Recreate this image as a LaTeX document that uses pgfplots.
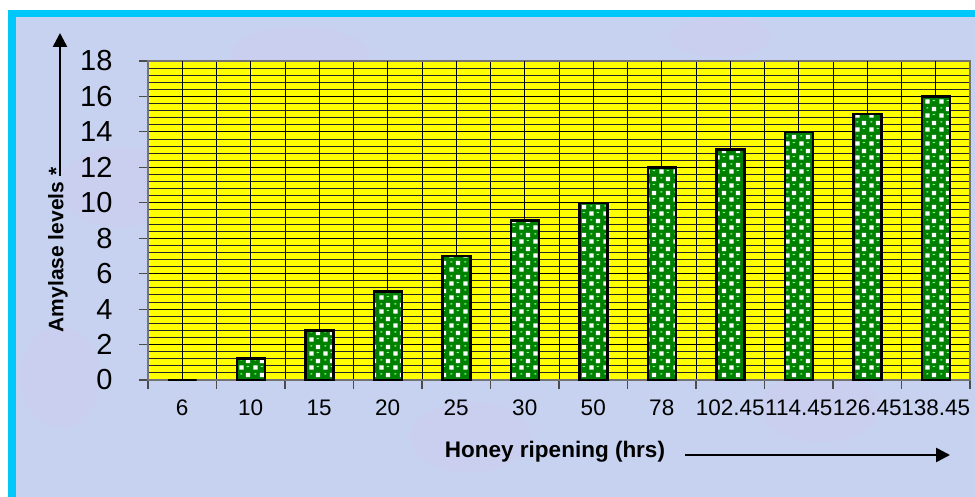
\documentclass[border=0pt]{standalone}
\usepackage{pgfplots}
\pgfplotsset{compat=1.18}
\usepackage{pgfplotstable}
\usepackage{fontspec}
\setmainfont{Liberation Sans}
\usetikzlibrary{patterns,arrows.meta}
\definecolor{framecyan}{RGB}{0,200,250}
\definecolor{bgblue}{RGB}{198,210,240}
\definecolor{bgpink}{RGB}{225,195,235}
\definecolor{bargreen}{RGB}{0,128,0}
\definecolor{plotyellow}{RGB}{255,255,0}
\pgfdeclarepatternformonly{checker}{\pgfqpoint{0pt}{0pt}}{\pgfqpoint{14pt}{14pt}}{\pgfqpoint{14pt}{14pt}}{%
  \pgfpathrectangle{\pgfqpoint{1.5pt}{1.5pt}}{\pgfqpoint{4.5pt}{4.5pt}}%
  \pgfpathrectangle{\pgfqpoint{8.5pt}{8.5pt}}{\pgfqpoint{4.5pt}{4.5pt}}%
  \pgfusepath{fill}}
\pgfdeclarepatternformonly{shine}{\pgfqpoint{0pt}{0pt}}{\pgfqpoint{14pt}{14pt}}{\pgfqpoint{14pt}{14pt}}{%
  \pgfpathellipse{\pgfqpoint{10.5pt}{4.8pt}}{\pgfqpoint{1.6pt}{0pt}}{\pgfqpoint{0pt}{0.8pt}}%
  \pgfpathellipse{\pgfqpoint{3.5pt}{11.8pt}}{\pgfqpoint{1.6pt}{0pt}}{\pgfqpoint{0pt}{0.8pt}}%
  \pgfusepath{fill}}
\pgfplotstableread{
x y
0 0
1 1.2
2 2.8
3 5
4 7
5 9
6 10
7 12
8 13
9 14
10 15
11 16
}\amylase
\begin{document}
\begin{tikzpicture}[x=1pt,y=1pt]
\fill[white] (0,0) rectangle (975,497);
\fill[framecyan] (8,0) rectangle (975,487);
\fill[bgblue] (16,0) rectangle (975,480);
\begin{scope}[opacity=0.18]
\fill[bgpink] (120,310) ellipse (60 and 40);
\fill[bgpink] (300,440) ellipse (70 and 30);
\fill[bgpink] (470,60) ellipse (60 and 35);
\fill[bgpink] (820,90) ellipse (60 and 35);
\fill[bgpink] (60,120) ellipse (40 and 50);
\fill[bgpink] (720,460) ellipse (50 and 20);
\end{scope}
\begin{axis}[
  at={(148pt,117pt)}, anchor=south west,
  scale only axis, width=822pt, height=319pt,
  xmin=-0.5, xmax=11.5, ymin=0, ymax=18,
  axis background/.style={fill=plotyellow},
  axis line style={draw=black!55, line width=1.5pt},
  xtick={-0.5,0.5,...,11.5}, xticklabels={},
  extra x ticks={0,1,...,11},
  extra x tick labels={6,10,15,20,25,30,50,78,102.45,114.45,126.45,138.45},
  extra x tick style={major tick length=0pt, xmajorgrids=true},
  ytick={0,2,...,18},
  minor y tick num=4,
  tick pos=left,
  xmajorgrids, ymajorgrids, yminorgrids,
  major grid style={black, line width=1pt},
  minor grid style={black!85, line width=0.9pt},
  tick align=outside,
  major tick length=9pt, minor tick length=0pt,
  tick style={black!70, line width=1.2pt},
  x tick label style={font=\fontsize{22.5}{26}\selectfont, anchor=base, yshift=-36pt},
  y tick label style={font=\fontsize{29}{34}\selectfont, xshift=-23pt},
  /pgf/number format/assume math mode=true,
  clip=false,
]
\addplot[ybar, bar width=28pt, draw=black, line width=2.5pt, fill=bargreen,
  postaction={pattern=checker, pattern color=white},
  postaction={pattern=shine, pattern color=green!55!white}]
  table[x=x, y=y] {\amylase};
\end{axis}
\node[rotate=90, font=\fontsize{21}{25}\selectfont\bfseries] at (58,247) {Amylase levels *};
\draw[line width=2.5pt, -{Triangle[length=14pt,width=14pt]}] (60,321) -- (60,464);
\node[font=\fontsize{22.5}{26}\selectfont\bfseries] at (555,45) {Honey ripening (hrs)};
\draw[line width=2.5pt, -{Triangle[length=14pt,width=14pt]}] (685,42) -- (950,42);
\end{tikzpicture}
\end{document}
